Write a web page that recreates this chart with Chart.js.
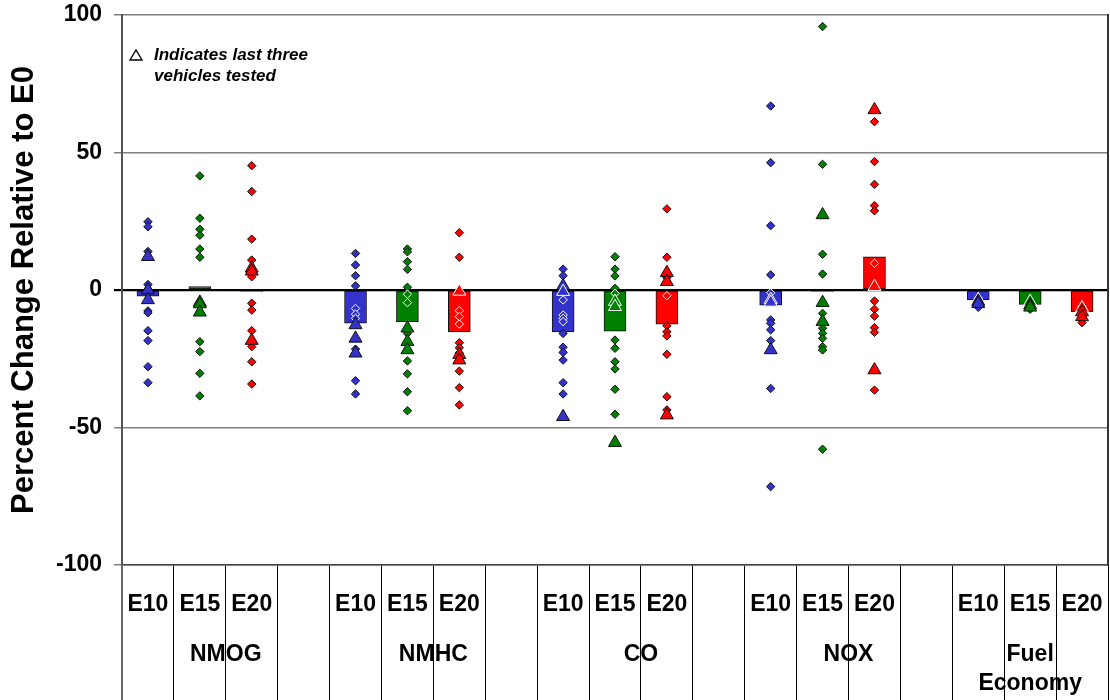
<!DOCTYPE html>
<html><head><meta charset="utf-8">
<script src="https://cdn.jsdelivr.net/npm/chart.js@4.4.1/dist/chart.umd.min.js"></script>
<style>html,body{margin:0;padding:0;background:#fff}canvas{display:block}</style>
</head><body>
<canvas id="c" width="1110" height="700"></canvas>
<script>
// ---- data ----
const groups = ['NMOG', 'NMHC', 'CO', 'NOX', ['Fuel', 'Economy']];
const fuels = ['E10', 'E15', 'E20'];
const yTicks = [-100, -50, 0, 50, 100];
const noteLines = ['Indicates last three', 'vehicles tested'];
const yTitle = 'Percent Change Relative to E0';

// bar values (average change) per group: NMOG, NMHC, CO, NOX, Fuel Economy
const meanE10 = [-2.2, -12.1, -15.2, -5.5, -3.6];
const meanE15 = [1.2, -11.5, -15.0, -0.5, -5.2];
const meanE20 = [-0.5, -15.2, -12.4, 12.1, -7.9];

// individual vehicles (diamonds)
const ptsE10 = [
  [24.8, 23.0, 14.0, 2.0, -7.6, -8.3, -14.8, -18.4, -27.9, -33.7],
  [13.3, 9.1, 5.2, 1.5, -6.7, -8.8, -10.3, -21.5, -33.0, -37.8],
  [7.6, 5.2, -3.6, -9.1, -10.3, -11.5, -15.8, -20.8, -22.7, -25.5, -33.7, -37.8],
  [66.9, 46.3, 23.4, 5.5, -1.0, -10.9, -12.1, -14.5, -18.4, -35.8, -71.5],
  [-3.0, -3.8, -4.5, -5.2, -6.3]
];
const ptsE15 = [
  [41.5, 26.1, 22.1, 19.9, 14.9, 11.9, -18.8, -22.4, -30.3, -38.5],
  [14.9, 13.9, 10.3, 7.5, 1.0, -1.5, -4.6, -15.8, -25.8, -30.5, -37.0, -43.9],
  [12.1, 7.6, 5.1, 0.6, -1.2, -18.2, -21.2, -26.1, -28.7, -36.1, -45.2],
  [95.8, 45.7, 13.0, 5.8, -8.5, -13.9, -15.8, -17.6, -20.6, -21.8, -57.9],
  [-4.5, -5.5, -6.3, -7.0]
];
const ptsE20 = [
  [45.2, 35.8, 18.5, 10.9, 4.8, -4.8, -7.3, -14.8, -20.6, -26.1, -34.2],
  [20.8, 11.9, -7.5, -9.7, -12.4, -19.2, -21.0, -23.0, -29.5, -35.5, -41.8],
  [29.5, 11.9, 4.5, -2.1, -13.0, -15.2, -16.7, -23.4, -38.8, -43.6],
  [61.2, 46.7, 38.4, 30.7, 28.8, 9.7, -4.0, -7.0, -9.5, -13.7, -15.4, -36.4],
  [-6.0, -7.5, -8.5, -9.5, -10.5, -11.9]
];
// last three vehicles tested (triangles)
const triE10 = [[12.1, 0.0, -3.6], [-12.7, -17.6, -23.0], [1.5, -0.6, -46.1], [-3.5, -4.5, -21.8], [-3.5, -4.2, -5.0]];
const triE15 = [[-4.5, -5.1, -8.1], [-13.9, -18.8, -21.8], [-4.2, -6.1, -55.5], [27.3, -4.6, -11.5], [-4.2, -5.5, -6.3]];
const triE20 = [[7.9, 6.8, -18.4], [-0.5, -23.5, -25.5], [6.3, 3.0, -45.5], [65.5, 1.2, -29.1], [-6.5, -8.0, -9.8]];

// ---- build ----
const fuelColors = ['#3333CC', '#008000', '#FF0000'];
const means = [meanE10, meanE15, meanE20];
const pts = [ptsE10, ptsE15, ptsE20];
const tris = [triE10, triE15, triE20];

const groupSizes = groups.map((g, i) => i < groups.length - 1 ? fuels.length + 1 : fuels.length);
const groupStart = groupSizes.map((s, i) => groupSizes.slice(0, i).reduce((a, b) => a + b, 0));
const slotCount = groupSizes.reduce((a, b) => a + b, 0);
const slotLabels = [];
groups.forEach((g, gi) => { for (let k = 0; k < groupSizes[gi]; k++) slotLabels.push(k < fuels.length ? fuels[k] : ''); });
const groupCenters = groupStart.map((s, i) => s + (groupSizes[i] - 1) / 2);

const barByX = {};
const datasets = [];
fuels.forEach((f, fi) => {
  const data = groups.map((g, gi) => ({ x: groupStart[gi] + fi, y: means[fi][gi] }));
  data.forEach(d => barByX[d.x] = d.y);
  datasets.push({
    type: 'bar', label: f + ' average', data, order: 5,
    backgroundColor: fuelColors[fi], borderColor: '#111', borderWidth: 1,
    borderSkipped: false, barThickness: 22, grouped: false
  });
});
function inside(ctx) {
  const r = ctx.raw; if (!r) return false;
  const m = barByX[r.x];
  return m < 0 ? (r.y < 0 && r.y > m) : (r.y > 0 && r.y < m);
}
fuels.forEach((f, fi) => {
  const d = [], t = [];
  groups.forEach((g, gi) => {
    pts[fi][gi].forEach(v => d.push({ x: groupStart[gi] + fi, y: v }));
    tris[fi][gi].forEach(v => t.push({ x: groupStart[gi] + fi, y: v }));
  });
  datasets.push({
    type: 'scatter', label: f, data: d, order: 1, pointStyle: 'rectRot', pointRadius: 4.2,
    backgroundColor: fuelColors[fi], borderWidth: 1,
    borderColor: ctx => inside(ctx) ? '#ffffff' : '#111'
  });
  datasets.push({
    type: 'scatter', label: f + ' last three', data: t, order: 0, pointStyle: 'triangle', pointRadius: 7.5,
    backgroundColor: fuelColors[fi], borderWidth: 1,
    borderColor: ctx => inside(ctx) ? '#ffffff' : '#111'
  });
});

const FONT = '"Liberation Sans", Arial, Helvetica, sans-serif';
const noPad = s => { s.paddingLeft = 0; s.paddingRight = 0; s.paddingTop = 0; s.paddingBottom = 0; };

const notePlugin = {
  id: 'note',
  afterDraw(chart) {
    const { ctx, chartArea } = chart;
    const x0 = chartArea.left + 14, y0 = chartArea.top + 45;
    ctx.save();
    ctx.strokeStyle = '#000'; ctx.lineWidth = 1.4;
    ctx.beginPath();
    ctx.moveTo(x0, y0 - 10); ctx.lineTo(x0 + 6, y0); ctx.lineTo(x0 - 6, y0); ctx.closePath(); ctx.stroke();
    ctx.fillStyle = '#000';
    ctx.font = 'italic bold 17px ' + FONT;
    ctx.textBaseline = 'alphabetic';
    ctx.fillText(noteLines[0], x0 + 18, y0);
    ctx.fillText(noteLines[1], x0 + 18, y0 + 21);
    ctx.restore();
  }
};

new Chart(document.getElementById('c'), {
  type: 'bar',
  data: { datasets },
  plugins: [notePlugin],
  options: {
    responsive: false, animation: false, devicePixelRatio: 1,
    layout: { autoPadding: false, padding: { top: 15, right: 1, left: 0, bottom: 0 } },
    plugins: { legend: { display: false }, tooltip: { enabled: false } },
    scales: {
      x: {
        type: 'linear', position: 'bottom', min: -0.5, max: slotCount - 0.5, weight: 0, offset: false,
        afterBuildTicks: s => { s.ticks = slotLabels.map((l, i) => ({ value: i })); },
        afterFit: s => { s.height = 50; noPad(s); },
        ticks: {
          autoSkip: false, maxRotation: 0, minRotation: 0, padding: -109, color: '#000',
          font: { family: FONT, size: 23, weight: 'bold' },
          callback: (v, i) => slotLabels[i]
        },
        grid: {
          offset: true, drawOnChartArea: false, drawTicks: true, tickLength: 135,
          color: c => c.index === 0 ? '#666' : '#000', lineWidth: c => c.index === 0 ? 2 : 1
        },
        border: { display: true, color: '#444', width: 1.5 }
      },
      x2: {
        type: 'linear', position: 'bottom', min: -0.5, max: slotCount - 0.5, weight: 1, offset: false,
        afterBuildTicks: s => { s.ticks = groupCenters.map(c => ({ value: c })); },
        afterFit: s => { s.height = 85; noPad(s); },
        ticks: {
          autoSkip: false, maxRotation: 0, minRotation: 0, padding: 25, color: '#000',
          font: { family: FONT, size: 23, weight: 'bold', lineHeight: 1.26 },
          callback: (v, i) => groups[i]
        },
        grid: { display: false, drawTicks: false },
        border: { display: false }
      },
      y: {
        type: 'linear', position: 'left', min: -100, max: 100,
        afterBuildTicks: s => { s.ticks = yTicks.map(v => ({ value: v })); },
        afterFit: s => { s.width = 122; noPad(s); },
        ticks: { color: '#000', padding: 12, font: { family: FONT, size: 23, weight: 'bold' } },
        grid: {
          color: c => c.tick && c.tick.value === 0 ? '#000' : '#808080',
          lineWidth: c => c.tick && c.tick.value === 0 ? 2.2 : 1.5,
          tickLength: 8, drawTicks: true
        },
        border: { display: true, color: '#555', width: 2 },
        title: { display: true, text: yTitle, color: '#000', padding: { top: 6, bottom: 0 }, font: { family: FONT, size: 31, weight: 'bold' } }
      },
      yR: {
        type: 'linear', position: 'right', min: -100, max: 100,
        afterFit: s => { s.width = 1; noPad(s); },
        ticks: { display: false },
        grid: { display: false, drawTicks: false },
        border: { display: true, color: '#333', width: 2 }
      }
    }
  }
});
</script>
</body></html>
